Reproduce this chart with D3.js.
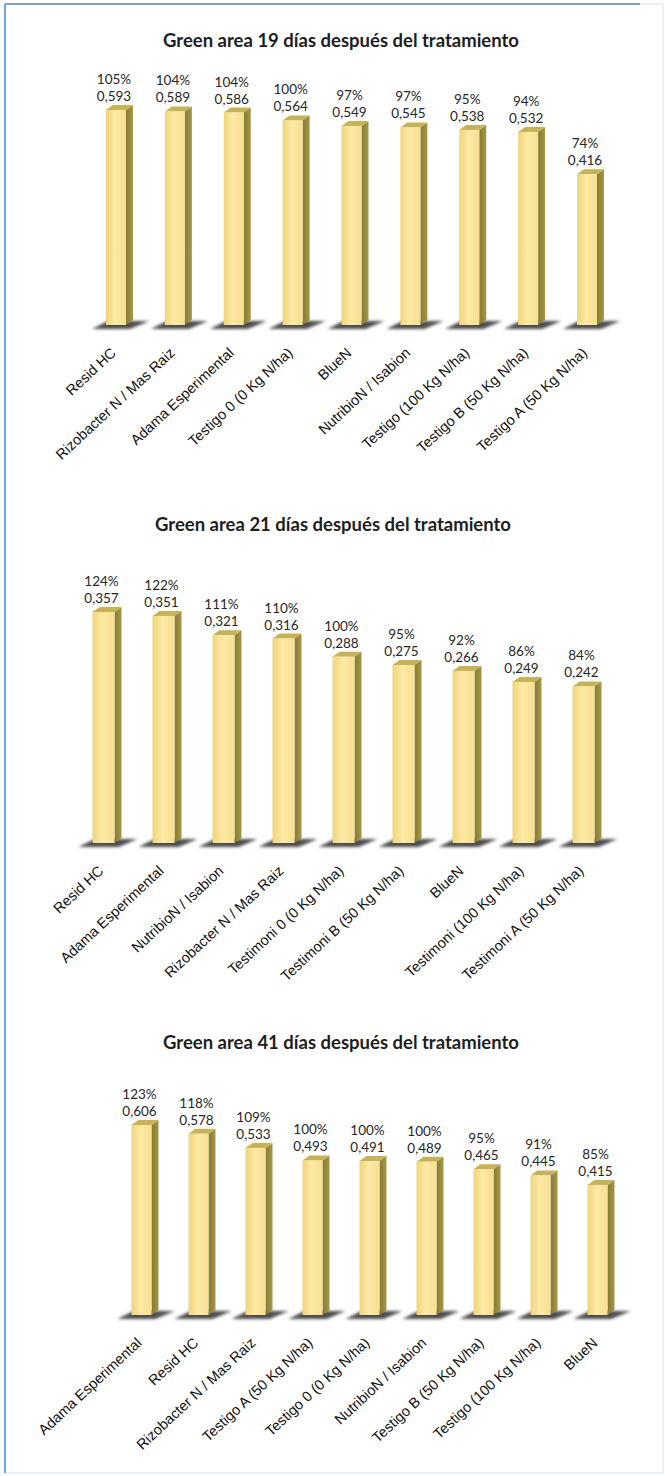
<!DOCTYPE html>
<html>
<head>
<meta charset="utf-8">
<script src="https://cdn.jsdelivr.net/npm/d3@7"></script>
<style>
    html, body { margin: 0; padding: 0; background: #fff; }
    svg { display: block; }
    .title { font-family: Lato, "Open Sans", sans-serif; font-weight: bold; fill: #1e1e1e; }
    .value { font-family: Lato, "Open Sans", sans-serif; fill: #262626; }
    .tick-label { font-family: "Liberation Sans", Arial, sans-serif; fill: #111; }
</style>
</head>
<body>
<script>
'use strict';

// chart 1 - 19 dias
var categories19 = ['Resid HC', 'Rizobacter N / Mas Raiz', 'Adama Esperimental', 'Testigo 0 (0 Kg N/ha)', 'BlueN',
    'NutribioN / Isabion', 'Testigo (100 Kg N/ha)', 'Testigo B (50 Kg N/ha)', 'Testigo A (50 Kg N/ha)'];
var values19 = [0.593, 0.589, 0.586, 0.564, 0.549, 0.545, 0.538, 0.532, 0.416];
var percents19 = [105, 104, 104, 100, 97, 97, 95, 94, 74];

// chart 2 - 21 dias
var categories21 = ['Resid HC', 'Adama Esperimental', 'NutribioN / Isabion', 'Rizobacter N / Mas Raiz', 'Testimoni 0 (0 Kg N/ha)',
    'Testimoni B (50 Kg N/ha)', 'BlueN', 'Testimoni (100 Kg N/ha)', 'Testimoni A (50 Kg N/ha)'];
var values21 = [0.357, 0.351, 0.321, 0.316, 0.288, 0.275, 0.266, 0.249, 0.242];
var percents21 = [124, 122, 111, 110, 100, 95, 92, 86, 84];

// chart 3 - 41 dias
var categories41 = ['Adama Esperimental', 'Resid HC', 'Rizobacter N / Mas Raiz', 'Testigo A (50 Kg N/ha)', 'Testigo 0 (0 Kg N/ha)',
    'NutribioN / Isabion', 'Testigo B (50 Kg N/ha)', 'Testigo (100 Kg N/ha)', 'BlueN'];
var values41 = [0.606, 0.578, 0.533, 0.493, 0.491, 0.489, 0.465, 0.445, 0.415];
var percents41 = [123, 118, 109, 100, 100, 100, 95, 91, 85];

var titles = ['Green area 19 días después del tratamiento',
    'Green area 21 días después del tratamiento',
    'Green area 41 días después del tratamiento'];

var W = 665, H = 1476;

var locale = d3.formatLocale({ decimal: ',', thousands: '.', grouping: [3], currency: ['', '€'] });
var formatValue = locale.format('.3f');

var svg = d3.select('body').append('svg').attr('width', W).attr('height', H);

var defs = svg.append('defs');

var front = defs.append('linearGradient').attr('id', 'front').attr('x1', 0).attr('x2', 1).attr('y1', 0).attr('y2', 0);
front.append('stop').attr('offset', '0%').attr('stop-color', '#efd47a');
front.append('stop').attr('offset', '45%').attr('stop-color', '#fce9a3');
front.append('stop').attr('offset', '100%').attr('stop-color', '#f6df92');

var side = defs.append('linearGradient').attr('id', 'side').attr('x1', 0).attr('x2', 1).attr('y1', 0).attr('y2', 0);
side.append('stop').attr('offset', '0%').attr('stop-color', '#877b30');
side.append('stop').attr('offset', '100%').attr('stop-color', '#a5984a');

defs.append('filter').attr('id', 'blur').attr('x', '-50%').attr('y', '-100%').attr('width', '200%').attr('height', '300%')
    .append('feGaussianBlur').attr('stdDeviation', 1.5);

defs.append('filter').attr('id', 'soft').attr('y', '-200%').attr('height', '500%')
    .append('feGaussianBlur').attr('stdDeviation', 0.8);

// frame
svg.append('rect').attr('x', 5).attr('y', 4).attr('width', W - 7).attr('height', H - 7)
    .attr('fill', 'none').attr('stroke', '#e3eef8').attr('stroke-width', 1.5);
svg.append('line').attr('x1', 5).attr('x2', 640).attr('y1', 4).attr('y2', 4)
    .attr('stroke', '#7f9fc0').attr('stroke-width', 2);
svg.append('line').attr('x1', 5).attr('x2', 5).attr('y1', 4).attr('y2', H - 3)
    .attr('stroke', '#6fa8dc').attr('stroke-width', 2);

var BarChart = function BarChart(config) {

    var g = svg.append('g');

    var x = d3.scalePoint().domain(config.categories).range(config.xRange);
    var y = d3.scaleLinear().domain([0, config.yMax]).range([config.base, config.base - config.yMax * config.pxPerUnit]);

    var bw = config.barWidth, dx = 7, dy = -5;
    var data = config.categories.map(function (c, i) {
        return { name: c, value: config.values[i], pct: config.percents[i] };
    });

    g.append('text').attr('class', 'title')
        .attr('x', config.titleX).attr('y', config.titleY)
        .attr('text-anchor', 'middle').style('font-size', '18.5px')
        .text(config.title);

    // floor edge
    g.append('line')
        .attr('x1', x(config.categories[0]) - 40).attr('x2', x(config.categories[config.categories.length - 1]) + 38)
        .attr('y1', config.base + 8).attr('y2', config.base + 8)
        .attr('stroke', '#b4b4b4').attr('stroke-width', 2).attr('filter', 'url(#soft)');

    // shadows on floor
    g.selectAll('.shadow').data(data).enter().append('path')
        .attr('class', 'shadow')
        .attr('fill', '#2f2f2f').attr('opacity', 0.85).attr('filter', 'url(#blur)')
        .attr('d', function (d) {
            var x0 = x(d.name) - bw / 2, x1 = x(d.name) + bw / 2, b = config.base;
            return 'M' + (x0 - 14) + ',' + (b + 4) + 'L' + (x1 + 4) + ',' + (b + 4) +
                'L' + (x1 + dx + 16) + ',' + (b - 4) + 'L' + (x0 + 2) + ',' + (b - 4) + 'Z';
        });

    var bars = g.selectAll('.bar').data(data).enter().append('g').attr('class', 'bar');

    bars.append('path').attr('fill', 'url(#side)')
        .attr('d', function (d) {
            var x1 = x(d.name) + bw / 2, t = y(d.value), b = config.base;
            return 'M' + x1 + ',' + t + 'L' + (x1 + dx) + ',' + (t + dy) + 'L' + (x1 + dx) + ',' + (b + dy) +
                'L' + x1 + ',' + b + 'Z';
        });

    bars.append('path').attr('fill', '#c6b258')
        .attr('d', function (d) {
            var x0 = x(d.name) - bw / 2, x1 = x(d.name) + bw / 2, t = y(d.value);
            return 'M' + x0 + ',' + t + 'L' + (x0 + dx) + ',' + (t + dy) + 'L' + (x1 + dx) + ',' + (t + dy) +
                'L' + x1 + ',' + t + 'Z';
        });

    bars.append('rect').attr('fill', 'url(#front)')
        .attr('x', function (d) { return x(d.name) - bw / 2; })
        .attr('y', function (d) { return y(d.value); })
        .attr('width', bw)
        .attr('height', function (d) { return config.base - y(d.value); });

    // data labels
    bars.append('text').attr('class', 'value')
        .attr('x', function (d) { return x(d.name) - 2; })
        .attr('y', function (d) { return y(d.value) - 26; })
        .attr('text-anchor', 'middle').style('font-size', '13.5px')
        .text(function (d) { return d.pct + '%'; });

    bars.append('text').attr('class', 'value')
        .attr('x', function (d) { return x(d.name) - 2; })
        .attr('y', function (d) { return y(d.value) - 9; })
        .attr('text-anchor', 'middle').style('font-size', '13.5px')
        .text(function (d) { return formatValue(d.value); });

    // category axis
    g.selectAll('.tick-label').data(data).enter().append('text')
        .attr('class', 'tick-label')
        .attr('text-anchor', 'end').style('font-size', '14.5px')
        .attr('transform', function (d) {
            return 'translate(' + (x(d.name) + 1) + ',' + (config.base + 29) + ') rotate(-43)';
        })
        .text(function (d) { return d.name; });
};

BarChart({
    title: titles[0], titleX: 341, titleY: 47,
    categories: categories19, values: values19, percents: percents19,
    xRange: [116, 587], base: 325, yMax: 0.6, pxPerUnit: 362.6, barWidth: 20
});

BarChart({
    title: titles[1], titleX: 333, titleY: 531,
    categories: categories21, values: values21, percents: percents21,
    xRange: [103.5, 583.5], base: 843, yMax: 0.4, pxPerUnit: 647, barWidth: 22
});

BarChart({
    title: titles[2], titleX: 341, titleY: 1049,
    categories: categories41, values: values41, percents: percents41,
    xRange: [141.5, 597.5], base: 1315, yMax: 0.7, pxPerUnit: 313.5, barWidth: 20
});
</script>
</body>
</html>
